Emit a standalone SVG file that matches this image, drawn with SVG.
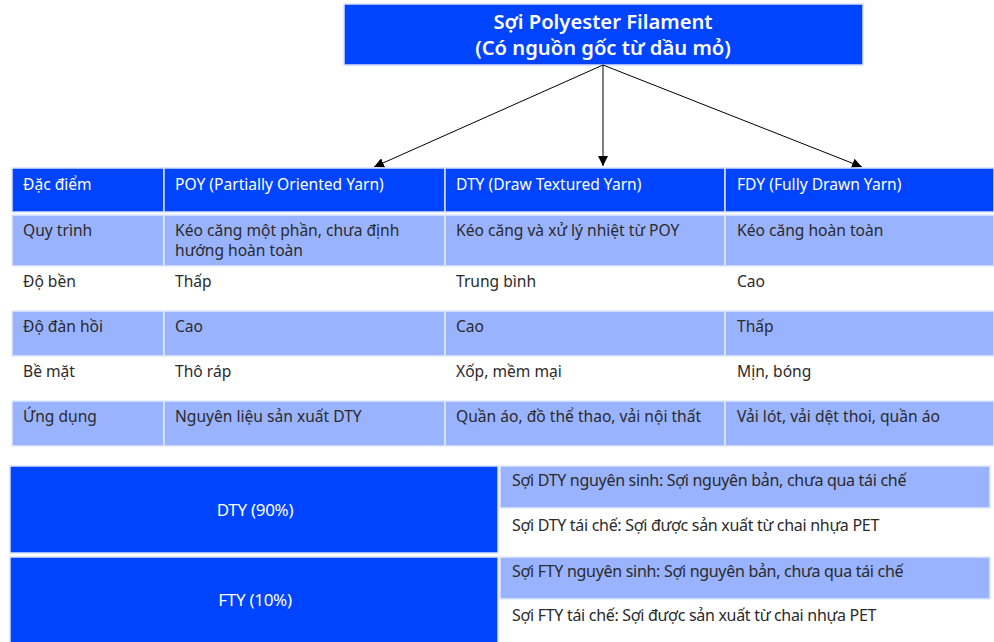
<svg xmlns="http://www.w3.org/2000/svg" width="994" height="642" viewBox="0 0 994 642">
<defs>
<style>
.dk{fill:#0044ff;stroke:#d6e0ff;stroke-width:1.5}
.lt{fill:#99b3ff;stroke:#e2e9ff;stroke-width:1.5}
.t{font-family:"Noto Sans","Open Sans",sans-serif;font-size:15.6px;fill:#2a2a2a}
.tw{font-family:"Noto Sans","Open Sans",sans-serif;font-size:15.6px;fill:#ffffff}
.ti{font-family:"Noto Sans","Open Sans",sans-serif;font-size:20.2px;font-weight:600;fill:#ffffff}
.b{font-family:"Noto Sans","Open Sans",sans-serif;font-size:16px;fill:#2a2a2a;letter-spacing:-0.3px}
.bw{font-family:"Noto Sans","Open Sans",sans-serif;font-size:17px;fill:#ffffff;letter-spacing:-0.3px}
.ln{stroke:#000;stroke-width:1;fill:none}
</style>
<marker id="ah" viewBox="0 0 10 10" refX="10" refY="5" markerWidth="10" markerHeight="10" markerUnits="userSpaceOnUse" orient="auto">
<path d="M0,0 L10,5 L0,10 z" fill="#000"/>
</marker>
</defs>
<rect width="994" height="642" fill="#ffffff"/>

<g id="root">
<rect class="dk" x="344" y="4" width="519" height="61" stroke="none"/>
<text class="ti" x="603" y="29" text-anchor="middle">Sợi Polyester Filament</text>
<text class="ti" x="603" y="55" text-anchor="middle">(Có nguồn gốc từ dầu mỏ)</text>
</g>

<g id="connectors">
<line class="ln" x1="603" y1="65" x2="374" y2="167" marker-end="url(#ah)"/>
<line class="ln" x1="603" y1="65" x2="603" y2="166" marker-end="url(#ah)"/>
<line class="ln" x1="603" y1="65" x2="862" y2="167" marker-end="url(#ah)"/>
</g>

<g id="table">
<g id="header">
<rect class="dk" x="12" y="168" width="152" height="44"/>
<rect class="dk" x="164" y="168" width="281" height="44"/>
<rect class="dk" x="445" y="168" width="280" height="44"/>
<rect class="dk" x="725" y="168" width="269" height="44"/>
<text class="tw" x="23" y="190">Đặc điểm</text>
<text class="tw" x="175" y="190">POY (Partially Oriented Yarn)</text>
<text class="tw" x="456" y="190">DTY (Draw Textured Yarn)</text>
<text class="tw" x="737" y="190">FDY (Fully Drawn Yarn)</text>
</g>
<g id="row-quy-trinh">
<rect class="lt" x="12" y="215" width="152" height="51"/>
<rect class="lt" x="164" y="215" width="281" height="51"/>
<rect class="lt" x="445" y="215" width="280" height="51"/>
<rect class="lt" x="725" y="215" width="269" height="51"/>
<text class="t" x="23" y="236">Quy trình</text>
<text class="t" x="175" y="236">Kéo căng một phần, chưa định</text>
<text class="t" x="175" y="256">hướng hoàn toàn</text>
<text class="t" x="456" y="236">Kéo căng và xử lý nhiệt từ POY</text>
<text class="t" x="737" y="236">Kéo căng hoàn toàn</text>
</g>
<g id="row-do-ben">
<text class="t" x="23" y="287">Độ bền</text>
<text class="t" x="175" y="287">Thấp</text>
<text class="t" x="456" y="287">Trung bình</text>
<text class="t" x="737" y="287">Cao</text>
</g>
<g id="row-do-dan-hoi">
<rect class="lt" x="12" y="311" width="152" height="45"/>
<rect class="lt" x="164" y="311" width="281" height="45"/>
<rect class="lt" x="445" y="311" width="280" height="45"/>
<rect class="lt" x="725" y="311" width="269" height="45"/>
<text class="t" x="23" y="332">Độ đàn hồi</text>
<text class="t" x="175" y="332">Cao</text>
<text class="t" x="456" y="332">Cao</text>
<text class="t" x="737" y="332">Thấp</text>
</g>
<g id="row-be-mat">
<text class="t" x="23" y="377">Bề mặt</text>
<text class="t" x="175" y="377">Thô ráp</text>
<text class="t" x="456" y="377">Xốp, mềm mại</text>
<text class="t" x="737" y="377">Mịn, bóng</text>
</g>
<g id="row-ung-dung">
<rect class="lt" x="12" y="401" width="152" height="45"/>
<rect class="lt" x="164" y="401" width="281" height="45"/>
<rect class="lt" x="445" y="401" width="280" height="45"/>
<rect class="lt" x="725" y="401" width="269" height="45"/>
<text class="t" x="23" y="422">Ứng dụng</text>
<text class="t" x="175" y="422">Nguyên liệu sản xuất DTY</text>
<text class="t" x="456" y="422">Quần áo, đồ thể thao, vải nội thất</text>
<text class="t" x="737" y="422">Vải lót, vải dệt thoi, quần áo</text>
</g>
</g>

<g id="dty">
<rect class="dk" x="10" y="466" width="488" height="87"/>
<text class="bw" x="255" y="516" text-anchor="middle">DTY (90%)</text>
</g>
<g id="dty-nguyen-sinh">
<rect class="lt" x="500" y="466" width="490" height="42"/>
<text class="b" x="512" y="486">Sợi DTY nguyên sinh: Sợi nguyên bản, chưa qua tái chế</text>
</g>
<g id="dty-tai-che">
<text class="b" x="512" y="531">Sợi DTY tái chế: Sợi được sản xuất từ chai nhựa PET</text>
</g>
<g id="fty">
<rect class="dk" x="10" y="557" width="488" height="90"/>
<text class="bw" x="255" y="606" text-anchor="middle">FTY (10%)</text>
</g>
<g id="fty-nguyen-sinh">
<rect class="lt" x="500" y="557" width="490" height="42"/>
<text class="b" x="512" y="577">Sợi FTY nguyên sinh: Sợi nguyên bản, chưa qua tái chế</text>
</g>
<g id="fty-tai-che">
<text class="b" x="512" y="621">Sợi FTY tái chế: Sợi được sản xuất từ chai nhựa PET</text>
</g>
</svg>
